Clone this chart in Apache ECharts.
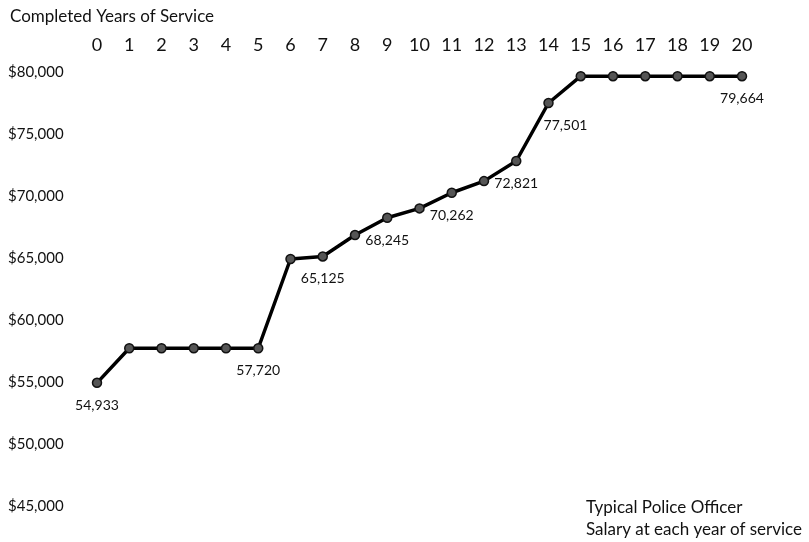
<!DOCTYPE html>
<html>
<head>
<meta charset="utf-8">
<script src="https://cdn.jsdelivr.net/npm/echarts@6/dist/echarts.min.js"></script>
<style>html,body{margin:0;padding:0;background:#fff}#c{width:809px;height:542px}</style>
</head>
<body>
<div id="c"></div>
<script>
const years = ['0','1','2','3','4','5','6','7','8','9','10','11','12','13','14','15','16','17','18','19','20'];
const salary = [54933,57720,57720,57720,57720,57720,64920,65125,66850,68245,69000,70262,71200,72821,77501,79664,79664,79664,79664,79664,79664];
const labelled = [0,5,7,9,11,13,14,20];
const axisTitle = 'Completed Years of Service';
const noteLines = ['Typical Police Officer','Salary at each year of service'];

const FONT = 'Lato';
const chart = echarts.init(document.getElementById('c'));
chart.setOption({
  backgroundColor: '#fff',
  animation: false,
  textStyle: {fontFamily: FONT},
  title: [
    {text: axisTitle, left: 5, top: 3, textStyle: {fontFamily: FONT, fontSize: 17, fontWeight: 'normal', color: '#111'}},
    {text: noteLines.join('\n'), left: 581, top: 492, textStyle: {fontFamily: FONT, fontSize: 17, fontWeight: 'normal', color: '#111', lineHeight: 22}}
  ],
  grid: {left: 97, right: 67, top: 72, bottom: 36},
  xAxis: {
    type: 'category', position: 'top', data: years, boundaryGap: false,
    axisLine: {show: false}, axisTick: {show: false}, splitLine: {show: false},
    axisLabel: {fontFamily: FONT, fontSize: 18, color: '#111', margin: 18, interval: 0}
  },
  yAxis: {
    type: 'value', min: 45000, max: 80000, interval: 5000,
    axisLine: {show: false}, axisTick: {show: false}, splitLine: {show: false},
    axisLabel: {fontFamily: FONT, fontSize: 15, color: '#111', align: 'left', margin: 89,
      formatter: v => '$' + v.toLocaleString('en-US')}
  },
  series: [{
    type: 'line', data: salary.map((v, i) => ({
      value: v,
      label: {show: labelled.includes(i), offset: i === 14 ? [17, 0] : [0, 0]}
    })),
    symbol: 'circle', symbolSize: 9,
    lineStyle: {color: '#000', width: 3.5},
    itemStyle: {color: '#555', borderColor: '#111', borderWidth: 1.5},
    label: {position: 'bottom', distance: 10, fontFamily: FONT, fontSize: 14, color: '#111',
      formatter: p => p.value.toLocaleString('en-US')}
  }]
});
</script>
</body>
</html>
